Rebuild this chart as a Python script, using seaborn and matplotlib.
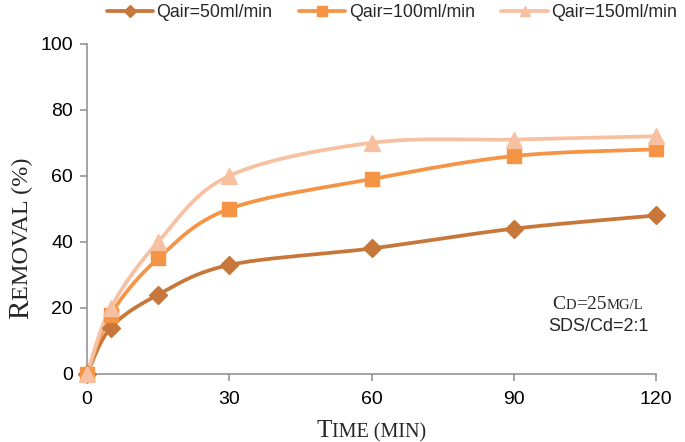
import numpy as np
import pandas as pd
import seaborn as sns
import matplotlib
matplotlib.use('Agg')
import matplotlib.pyplot as plt
from matplotlib.lines import Line2D

# data
time_min = [0, 5, 15, 30, 60, 90, 120]
removal_50 = [0, 14, 24, 33, 38, 44, 48]
removal_100 = [0, 18, 35, 50, 59, 66, 68]
removal_150 = [0, 20, 40, 60, 70, 71, 72]
series_names = ['Qair=50ml/min', 'Qair=100ml/min', 'Qair=150ml/min']
x_ticks = [0, 30, 60, 90, 120]
y_ticks = [0, 20, 40, 60, 80, 100]

colors = ['#C8773A', '#F59445', '#F7C0A0']
markers = ['D', 's', '^']
msizes = [9, 10.5, 11]

sns.set_theme(style='white')
plt.rcParams['font.family'] = ['Liberation Sans', 'DejaVu Sans']


def smooth(x, y, n=40):
    # catmull-rom curve through the points (like excel "smoothed line")
    p = np.column_stack([x, y]).astype(float)
    p = np.vstack([p[0], p, p[-1]])
    t = np.linspace(0, 1, n)[:, None]
    segs = []
    for i in range(1, len(p) - 2):
        p0, p1, p2, p3 = p[i - 1], p[i], p[i + 1], p[i + 2]
        c = 0.5 * (2 * p1 + (-p0 + p2) * t
                   + (2 * p0 - 5 * p1 + 4 * p2 - p3) * t ** 2
                   + (-p0 + 3 * p1 - 3 * p2 + p3) * t ** 3)
        segs.append(c)
    c = np.vstack(segs)
    return c[:, 0], c[:, 1]


fig = plt.figure(figsize=(6.85, 4.42), dpi=100)
ax = fig.add_axes([0.127, 0.154, 0.831, 0.747])

handles = []
for vals, name, col, mk, ms in zip([removal_50, removal_100, removal_150],
                                   series_names, colors, markers, msizes):
    sx, sy = smooth(time_min, vals)
    sns.lineplot(x=sx, y=sy, sort=False, estimator=None, color=col, lw=2.7, ax=ax)
    pts = pd.DataFrame({'t': time_min, 'r': vals})
    ax.plot(pts['t'], pts['r'], ls='none', marker=mk, ms=ms, color=col,
            mec=col, clip_on=False, zorder=3)
    handles.append(Line2D([], [], color=col, lw=2.7, marker=mk, ms=ms * 0.7))

ax.set_xlim(0, 120)
ax.set_ylim(0, 100)
ax.set_xticks(x_ticks)
ax.set_yticks(y_ticks)
ax.tick_params(axis='both', direction='out', length=5, width=1.1,
               color='#8c8c8c', labelsize=14, labelcolor='black',
               bottom=True, left=True)
ax.tick_params(axis='y', pad=5)
ax.tick_params(axis='x', pad=7)
for s in ['top', 'right']:
    ax.spines[s].set_visible(False)
for s in ['left', 'bottom']:
    ax.spines[s].set_color('#8c8c8c')
    ax.spines[s].set_linewidth(1.1)
ax.set_xlabel('')
ax.set_ylabel('')

fig.legend(handles, series_names, loc='center', bbox_to_anchor=(0.572, 0.971),
           ncol=3, frameon=False, fontsize=12.8, handlelength=2.6,
           handletextpad=0.2, columnspacing=1.5)


def smallcaps(x, y, parts, rotation=0):
    # parts: (text, size) pieces drawn one after another, centred on x,y (figure px)
    r = fig.canvas.get_renderer()
    widths = []
    for txt, size in parts:
        t = fig.text(0, 0, txt, fontsize=size, family='Liberation Serif')
        widths.append(t.get_window_extent(r).width)
        t.remove()
    total = sum(widths)
    pos = -total / 2
    for (txt, size), w in zip(parts, widths):
        if rotation == 0:
            px, py = x + pos, y
        else:
            px, py = x, y + pos
        fig.text(px / fig.bbox.width, py / fig.bbox.height, txt, fontsize=size,
                 family='Liberation Serif', ha='left', va='baseline',
                 rotation=rotation, rotation_mode='anchor')
        pos += w


H = 442
smallcaps(371, H - 437, [('T', 18), ('IME (MIN)', 14.5)])
smallcaps(28, H - 238, [('R', 21), ('EMOVAL (%)', 17.5)], rotation=90)
smallcaps(598, H - 309, [('C', 14), ('D', 10.5), ('=25', 14), ('MG/L', 10.5)])
fig.text(598 / 685, 1 - 331 / H, 'SDS/Cd=2:1', fontsize=13, ha='center', va='baseline')

fig.savefig('out.png', dpi=100)
